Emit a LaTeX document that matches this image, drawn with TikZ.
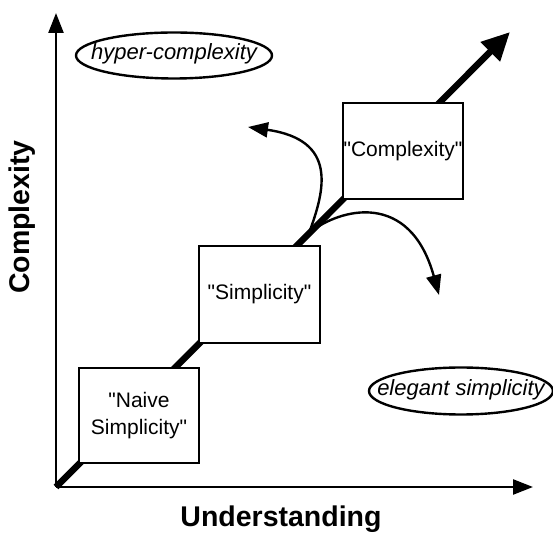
\documentclass[tikz,border=0pt]{standalone}
\usepackage{fontspec}
\setmainfont{Liberation Sans}
% plain family without TeX ligatures, so that " stays a straight quote
\newfontfamily\plainsans{Liberation Sans}
\usetikzlibrary{arrows.meta,shapes.geometric}
\begin{document}
\begin{tikzpicture}[x=1pt,y=1pt,
  stagebox/.style={draw,line width=2.4pt,fill=white,minimum width=#1,
    align=center,font=\plainsans\fontsize{21}{27}\selectfont,inner sep=0pt},
  regionlabel/.style={inner sep=0pt,
    font=\plainsans\fontsize{22}{26}\selectfont\itshape},
  regionring/.style={draw,line width=2.4pt},
  axislabel/.style={font=\fontsize{28.5}{34}\selectfont\bfseries},
  axis/.style={line width=2.4pt,-{Triangle[length=20pt,width=15pt]}},
  branch/.style={line width=2.4pt,-{Triangle[length=20pt,width=15pt]}},
  mainpath/.style={line width=6.5pt,-{Triangle[length=28pt,width=26pt]}}]
\useasboundingbox (0,0) rectangle (553,535);

% axes
\coordinate (O) at (56,48);
\coordinate (ytop) at (56,522);
\coordinate (xend) at (533,48);
\draw[axis] (O) -- (ytop);
\draw[axis] (O) -- (xend);
\node[axislabel,rotate=90] (ylab) at (22,318) {Complexity};
\node[axislabel] (xlab) at (281,16) {Understanding};

% main diagonal path through the stages
\coordinate (tip) at (510,503);
\draw[mainpath] (O) -- (tip);

% stages
\node[stagebox=120pt,minimum height=95pt] (naive) at (139,119.5) {"Naive\\Simplicity"};
\node[stagebox=121pt,minimum height=97pt] (simp) at (259.5,240.5) {"Simplicity"};
\node[stagebox=120pt,minimum height=96pt] (comp) at (403,384) {"Complexity"};

% branching arrows
\coordinate (fork) at (309,302);
\coordinate (upend) at (248,408);
\coordinate (downend) at (439,240);
\draw[branch] (fork) .. controls (325,345) and (338,395) .. (upend);
\draw[branch] (fork) .. controls (340,327) and (410,345) .. (downend);

% regions
\coordinate (hyperc) at (174,479.5);
\coordinate (elegantc) at (461,144);
\draw[regionring] (hyperc) ellipse [x radius=98, y radius=23];
\draw[regionring] (elegantc) ellipse [x radius=92, y radius=23.5];
\node[regionlabel] (hyper) at ([yshift=2pt]hyperc) {hyper-complexity};
\node[regionlabel] (elegant) at ([yshift=1pt]elegantc) {elegant simplicity};
\end{tikzpicture}
\end{document}
